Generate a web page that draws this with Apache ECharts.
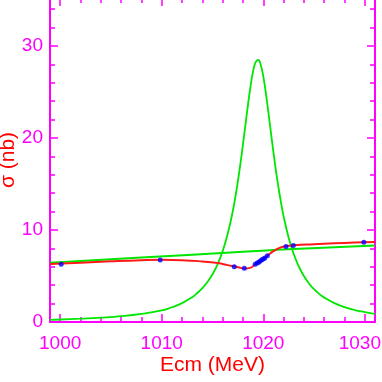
<!DOCTYPE html>
<html>
<head>
<meta charset="utf-8">
<script src="https://cdn.jsdelivr.net/npm/echarts@6/dist/echarts.min.js"></script>
<style>
  html, body { margin: 0; padding: 0; background: #fff; }
  #chart { width: 382px; height: 382px; }
</style>
</head>
<body>
<div id="chart"></div>
<script>
// resonance peak (green)
const peakE = [999, 1000, 1002, 1004, 1006, 1008, 1010, 1011, 1012, 1013, 1013.5, 1014, 1014.5,
  1015, 1015.5, 1016, 1016.5, 1017, 1017.25, 1017.5, 1017.75, 1018, 1018.25, 1018.5, 1018.75,
  1019, 1019.25, 1019.5, 1019.75, 1020, 1020.25, 1020.5, 1020.75, 1021, 1021.25, 1021.5,
  1021.75, 1022, 1022.5, 1023, 1023.5, 1024, 1024.5, 1025, 1025.5, 1026, 1027, 1028, 1029,
  1030, 1031];
const peakSigma = [0.22, 0.27, 0.36, 0.47, 0.63, 0.88, 1.25, 1.6, 2.05, 2.7, 3.15, 3.68, 4.35,
  5.18, 6.27, 7.7, 9.58, 12.05, 13.58, 15.3, 17.2, 19.3, 21.48, 23.65, 25.63,
  27.25, 28.24, 28.48, 27.92, 26.68, 24.88, 22.8, 20.6, 18.45, 16.42, 14.6,
  12.95, 11.5, 9.16, 7.38, 6.03, 5.0, 4.19, 3.56, 3.06, 2.65, 2.05, 1.62, 1.3,
  1.08, 0.88];

// slowly rising background (green)
const bgE = [999, 1008, 1018, 1023, 1031];
const bgSigma = [6.45, 7.0, 7.62, 7.92, 8.3];

// fit curve (red)
const fitE = [999, 1002, 1005, 1008, 1010, 1012, 1014, 1015.5, 1016.5, 1017.5, 1018.2, 1018.7,
  1019.2, 1019.8, 1020.4, 1021, 1021.6, 1022.2, 1023, 1025, 1027, 1029, 1031];
const fitSigma = [6.3, 6.45, 6.6, 6.72, 6.76, 6.72, 6.58, 6.4, 6.18, 5.95, 5.82, 5.88,
  6.25, 6.7, 7.2, 7.7, 8.05, 8.22, 8.33, 8.45, 8.55, 8.63, 8.7];

// measured points (blue)
const dataE = [1000.1, 1009.85, 1017.14, 1018.13, 1019.2, 1019.4, 1019.55, 1019.7, 1019.85,
  1020.0, 1020.15, 1020.4, 1022.24, 1022.96, 1029.9];
const dataSigma = [6.27, 6.74, 6.0, 5.83, 6.27, 6.4, 6.5, 6.62, 6.75,
  6.85, 6.95, 7.2, 8.19, 8.3, 8.66];

const majorX = [1000, 1010, 1020, 1030];
const minorX = [1000, 1002, 1004, 1006, 1008, 1010, 1012, 1014, 1016, 1018, 1020, 1022, 1024,
  1026, 1028, 1030];

const MAGENTA = "#ff00ff";
const FONT = "'Liberation Sans', Arial, sans-serif";

const zip = (xs, ys) => xs.map((x, i) => [x, ys[i]]);

const xBase = {
  type: "value",
  min: 999,
  max: 1031,
  splitLine: { show: false }
};

function xAxisFor(position, ticks, len, showLine, showLabel) {
  return Object.assign({}, xBase, {
    position: position,
    axisLine: { show: showLine, lineStyle: { color: MAGENTA, width: 2 } },
    axisTick: {
      show: true,
      inside: true,
      length: len,
      customValues: ticks,
      lineStyle: { color: MAGENTA, width: 1.5 }
    },
    axisLabel: showLabel
      ? {
          customValues: majorX,
          // last label nudged left so it stays inside the canvas
          formatter: v => (v === 1030 ? "{last|" + v + "}" : String(v)),
          rich: { last: { padding: [0, 10, 0, 0], color: MAGENTA, fontFamily: FONT, fontSize: 19 } },
          color: MAGENTA,
          fontFamily: FONT,
          fontSize: 19,
          margin: 12
        }
      : { show: false }
  });
}

const yBase = {
  type: "value",
  min: 0,
  max: 35.2,
  interval: 10,
  splitLine: { show: false },
  axisLine: { show: true, lineStyle: { color: MAGENTA, width: 2 } },
  axisTick: { show: true, inside: true, length: 8, lineStyle: { color: MAGENTA, width: 1.5 } },
  minorTick: { show: true, splitNumber: 5, length: 5, lineStyle: { color: MAGENTA, width: 1.5 } }
};

const option = {
  animation: false,
  backgroundColor: "#fff",
  grid: { left: 50, right: 7, top: -2, bottom: 60, containLabel: false, outerBoundsMode: "none" },
  xAxis: [
    Object.assign(xAxisFor("bottom", majorX, 8, true, true), {
      name: "Ecm (MeV)",
      nameLocation: "middle",
      nameGap: 33,
      nameMoveOverlap: false,
      nameTextStyle: { color: "#ff0000", fontFamily: FONT, fontSize: 21 }
    }),
    xAxisFor("bottom", minorX, 5, false, false),
    xAxisFor("top", majorX, 8, true, false),
    xAxisFor("top", minorX, 5, false, false)
  ],
  yAxis: [
    Object.assign({}, yBase, {
      position: "left",
      name: "σ (nb)",
      nameLocation: "middle",
      nameGap: 31,
      nameMoveOverlap: false,
      nameTextStyle: { color: "#ff0000", fontFamily: FONT, fontSize: 21 },
      axisLabel: { color: MAGENTA, fontFamily: FONT, fontSize: 19, margin: 7, showMaxLabel: false }
    }),
    Object.assign({}, yBase, {
      position: "right",
      axisLabel: { show: false }
    })
  ],
  series: [
    {
      name: "peak",
      type: "line",
      data: zip(peakE, peakSigma),
      smooth: true,
      showSymbol: false,
      lineStyle: { color: "#00e600", width: 1.8 },
      z: 2
    },
    {
      name: "background",
      type: "line",
      data: zip(bgE, bgSigma),
      smooth: true,
      showSymbol: false,
      lineStyle: { color: "#00e600", width: 2 },
      z: 2
    },
    {
      name: "fit",
      type: "line",
      data: zip(fitE, fitSigma),
      smooth: true,
      showSymbol: false,
      lineStyle: { color: "#ff1a1a", width: 2 },
      z: 3
    },
    {
      name: "data",
      type: "scatter",
      data: zip(dataE, dataSigma),
      symbol: "circle",
      symbolSize: 5,
      itemStyle: { color: "#0000ff" },
      z: 4
    }
  ]
};

const myChart = echarts.init(document.getElementById("chart"), null, { renderer: "canvas" });
myChart.setOption(option);
</script>
</body>
</html>
